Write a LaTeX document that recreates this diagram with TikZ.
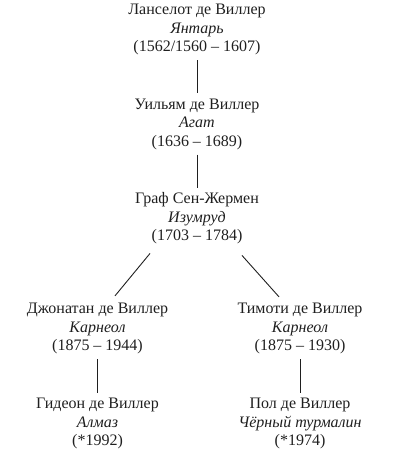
\documentclass[tikz,border=0pt]{standalone}
\usepackage{fontspec}
\setmainfont{Liberation Serif}
\usetikzlibrary{positioning}

\begin{document}
\begin{tikzpicture}[x=1pt, y=1pt, on grid, node distance=94.5pt,
    person/.style={align=center, inner sep=0pt, text=black!88,
        font=\fontsize{16}{18.5}\selectfont},
    link/.style={line width=0.9pt, draw=black!88}]
    \useasboundingbox (0,0) rectangle (400,471);
    \node (lancelot) [person] at (197,441.5) {Ланселот де Виллер\\ \textit{Янтарь}\\ (1562/1560 -- 1607)};
    \node (william) [person, below = of lancelot] {Уильям де Виллер\\ \textit{Агат}\\ (1636 -- 1689)};
    \node (graf) [person, below = of william] {Граф Сен-Жермен\\ \textit{Изумруд}\\ (1703 -- 1784)};
    \node (jonathan) [person, below left = 110pt and 99.5pt of graf] {Джонатан де Виллер\\ \textit{Карнеол}\\ (1875 -- 1944)};
    \node (timothy) [person, below right = 110pt and 103pt of graf] {Тимоти де Виллер\\ \textit{Карнеол}\\ (1875 -- 1930)};
    \node (gideon) [person, below = 95pt of jonathan] {Гидеон де Виллер\\ \textit{Алмаз}\\ (*1992)};
    \node (paul) [person, below = 95pt of timothy] {Пол де Виллер\\ \textit{Чёрный турмалин}\\ (*1974)};
    \path [link, shorten <=5pt, shorten >=5pt]
        (lancelot) edge (william)
        (william) edge (graf)
        (jonathan) edge (gideon)
        (timothy) edge (paul);
    \draw [link] ([xshift=-47pt, yshift=-9pt]graf.south) -- ([xshift=17.5pt, yshift=7pt]jonathan.north);
    \draw [link] ([xshift=45pt, yshift=-11pt]graf.south) -- ([xshift=-21pt, yshift=6pt]timothy.north);
\end{tikzpicture}
\end{document}
